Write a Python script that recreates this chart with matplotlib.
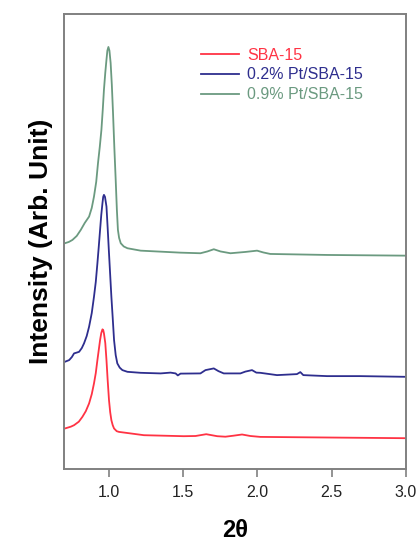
import matplotlib
matplotlib.use("Agg")
import matplotlib.pyplot as plt

plt.rcParams['font.family'] = ['Liberation Sans', 'DejaVu Sans']

# (intensity in arbitrary units)
x_sba = [0.705, 0.745, 0.767, 0.799, 0.823, 0.846, 0.868, 0.886, 0.901, 0.913, 0.924,
         0.933, 0.942, 0.950, 0.958, 0.963, 0.968, 0.977, 0.985, 0.993, 1.002, 1.010,
         1.018, 1.027, 1.036, 1.054, 1.069, 1.237, 1.505, 1.584, 1.656, 1.730, 1.785,
         1.839, 1.897, 1.953, 2.020, 2.468, 3.0]
y_sba = [40.7, 42.5, 44, 47.5, 52.3, 58, 65.7, 75, 85.7, 96, 109,
         119, 129, 136, 139.7, 139, 135.7, 126, 109, 89, 69, 57,
         49, 44, 40.7, 38, 37.3, 34, 33, 33.2, 35, 33, 32.5,
         33.5, 34.7, 33.2, 32.3, 31.7, 31]

x_02 = [0.705, 0.734, 0.752, 0.767, 0.785, 0.801, 0.819, 0.834, 0.852, 0.868, 0.886,
        0.901, 0.913, 0.924, 0.933, 0.942, 0.950, 0.958, 0.963, 0.968, 0.975, 0.985,
        0.993, 1.002, 1.010, 1.018, 1.027, 1.036, 1.047, 1.058, 1.074, 1.092, 1.126,
        1.215, 1.349, 1.416, 1.450, 1.465, 1.483, 1.617, 1.651, 1.707, 1.738, 1.774,
        1.886, 1.919, 1.964, 1.993, 2.020, 2.132, 2.266, 2.289, 2.309, 2.468, 2.691, 3.0]
y_02 = [107.3, 109, 112, 115.7, 116.5, 117.3, 121, 125.7, 133, 142.3, 156,
        172.3, 187, 205.7, 222, 239, 254, 265.7, 272, 274, 272, 262.3,
        241, 215.7, 194, 172.3, 151, 129, 114, 105.7, 101.5, 99, 97.3,
        96.3, 95.7, 96.5, 95.7, 93.7, 95.5, 95.7, 99, 100.7, 98, 95.7,
        95.7, 97.5, 99, 96.5, 96.3, 94, 95, 97, 94, 93, 93, 92.3]

x_09 = [0.705, 0.732, 0.756, 0.785, 0.812, 0.839, 0.868, 0.886, 0.901, 0.916, 0.928,
        0.940, 0.951, 0.960, 0.968, 0.977, 0.985, 0.991, 0.998, 1.005, 1.013, 1.021,
        1.029, 1.038, 1.047, 1.055, 1.062, 1.070, 1.081, 1.101, 1.126, 1.215, 1.483,
        1.617, 1.664, 1.707, 1.752, 1.819, 1.919, 1.998, 2.040, 2.087, 2.468, 3.0]
y_09 = [225.7, 227, 229, 233, 239, 246, 252.3, 261, 272.3, 287, 305.7,
        322, 339, 359, 379, 396, 409, 418, 421.7, 418, 405.7, 384,
        356, 321, 289, 259, 239, 231, 225.7, 222.5, 220.7, 218.3, 216.3,
        215.7, 217.5, 219.7, 217.5, 215.7, 217, 218.3, 216.5, 215, 214, 213.3]

series = [
    ("SBA-15", x_sba, y_sba, "#ff3344"),
    ("0.2% Pt/SBA-15", x_02, y_02, "#2e2e8e"),
    ("0.9% Pt/SBA-15", x_09, y_09, "#6b9a80"),
]
x_ticks = [1.0, 1.5, 2.0, 2.5, 3.0]

fig = plt.figure(figsize=(4.19, 5.45), dpi=100)
ax = fig.add_axes([0.153, 0.139, 0.816, 0.836])

for name, xs, ys, col in series:
    ax.plot(xs, ys, color=col, lw=1.3, label=name)

ax.set_xlim(0.7, 3.0)
ax.set_ylim(0, 455)
ax.set_xticks(x_ticks)
ax.set_xticklabels([f"{t:.1f}" for t in x_ticks])
ax.set_yticks([])
ax.tick_params(axis='x', direction='out', length=6, width=1.2, color='#808080',
               labelsize=11.5, labelcolor='#222222', pad=5)
for sp in ax.spines.values():
    sp.set_color('#808080')
    sp.set_linewidth(1.4)

ax.set_xlabel("2θ", fontsize=17, fontweight='bold', labelpad=14)
ax.set_ylabel("Intensity (Arb. Unit)", fontsize=19, fontweight='bold', labelpad=8)

leg = ax.legend(loc='upper left', bbox_to_anchor=(0.357, 0.957), frameon=False,
                fontsize=11.5, handlelength=2.4, handletextpad=0.5, labelspacing=0.3)
for txt, (_, _, _, col) in zip(leg.get_texts(), series):
    txt.set_color(col)

fig.savefig("out.png", dpi=100)
